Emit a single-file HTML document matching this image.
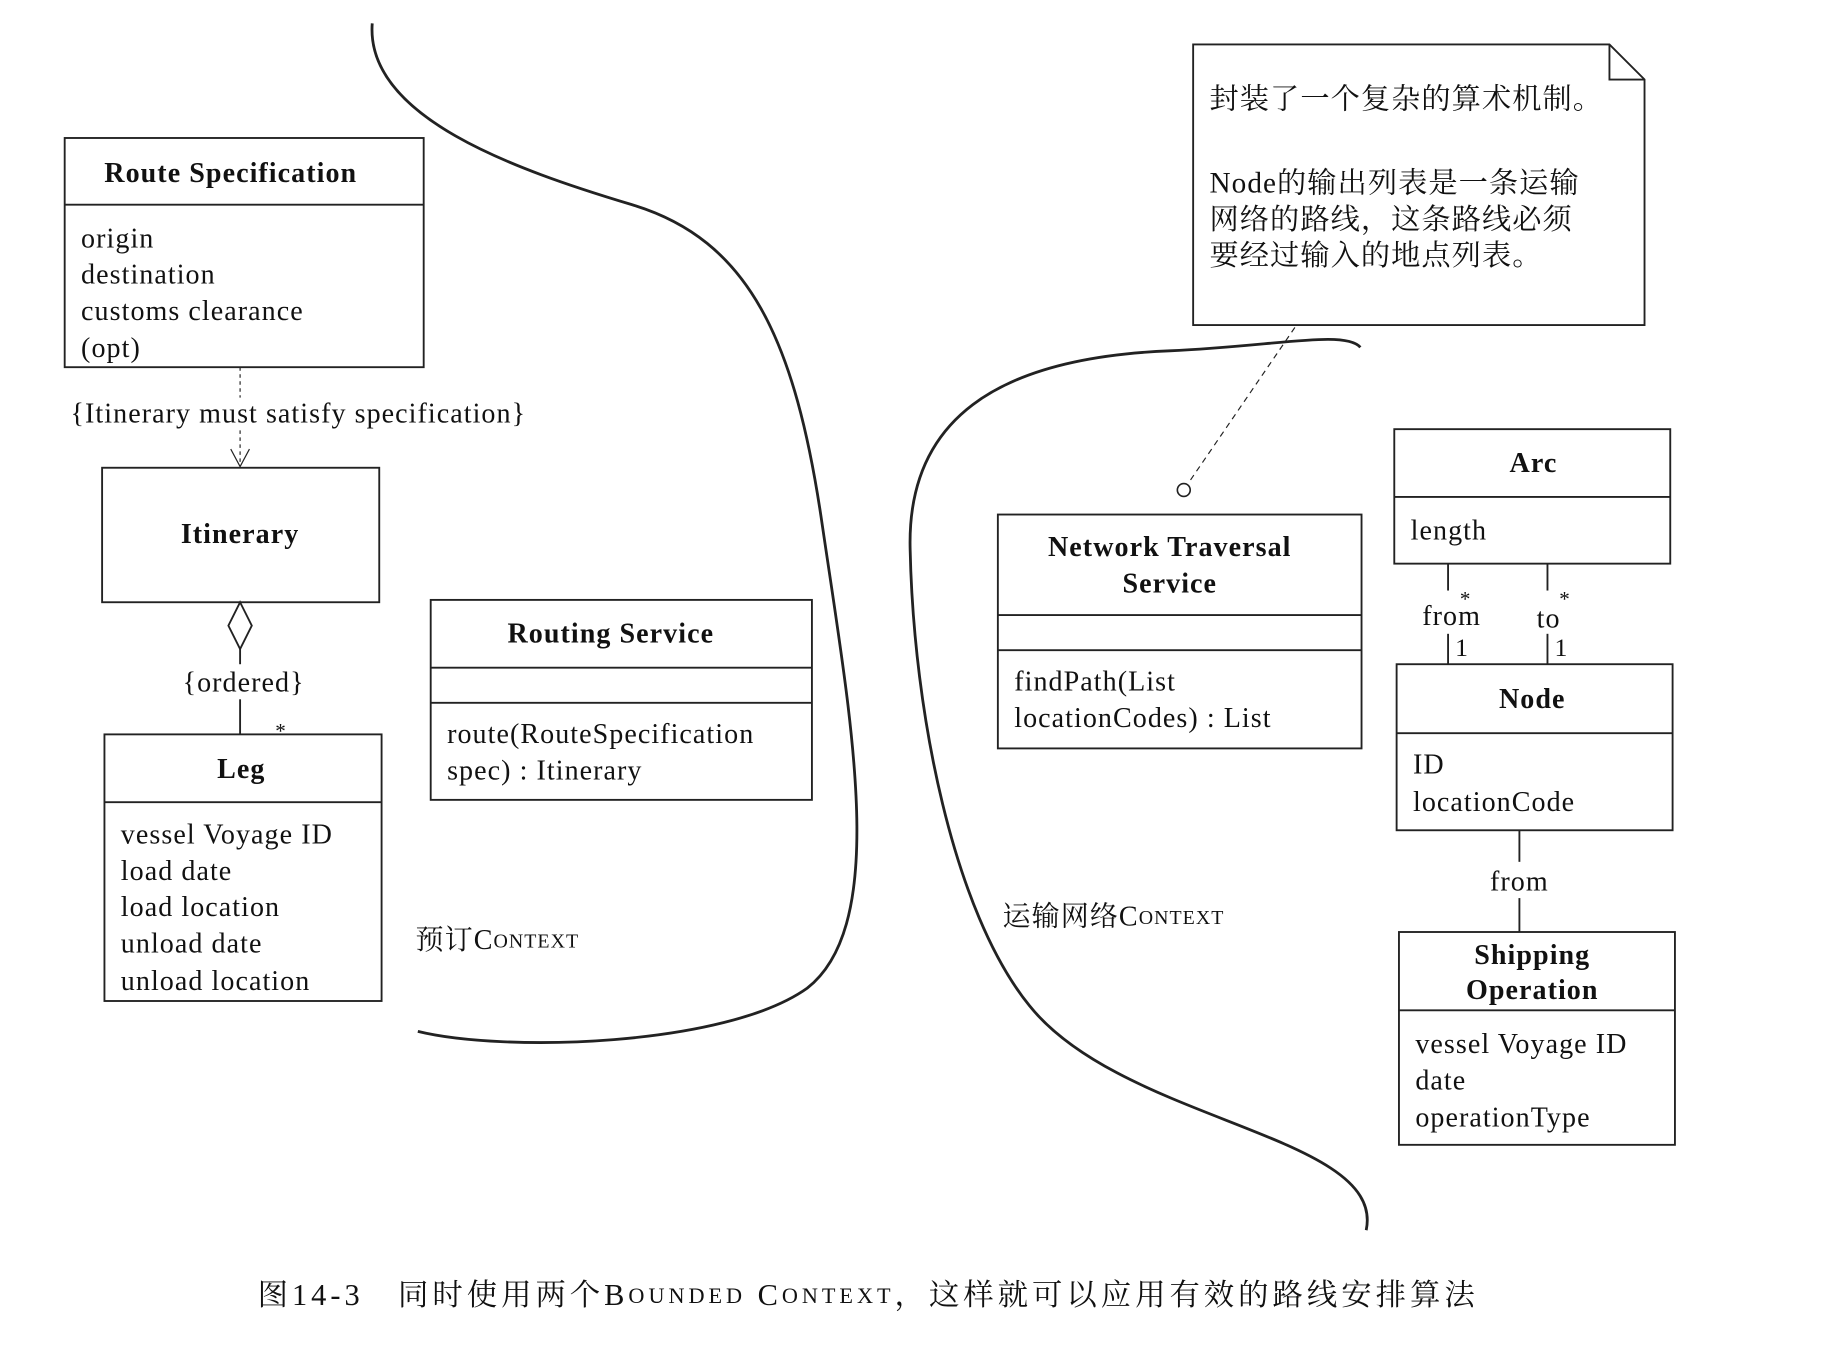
<!DOCTYPE html>
<html><head><meta charset="utf-8"><style>
html,body{margin:0;padding:0;background:#fff;}
svg{display:block;}
text{font-family:"Liberation Serif","Noto Serif CJK SC",serif;fill:#111;dominant-baseline:middle;letter-spacing:0.9px;}
.b{font-weight:bold;}
</style></head><body>
<svg width="1832" height="1360" viewBox="0 0 1566 1163" xmlns="http://www.w3.org/2000/svg">
<g fill="none" stroke="#222" stroke-width="1.6">
<rect x="55" y="118" width="307" height="196"/><line x1="55" y1="175" x2="362" y2="175"/>
<line x1="205" y1="314" x2="205" y2="340" stroke-dasharray="3,3" stroke-width="1"/>
<line x1="205" y1="368" x2="205" y2="398" stroke-dasharray="3,3" stroke-width="1"/>
<polyline points="197,384 205,399 213,384" stroke-width="1"/>
<rect x="87" y="400" width="237" height="115"/>
<polygon points="205,515 215,535 205,555 195,535" fill="#fff"/>
<line x1="205" y1="555" x2="205" y2="568"/><line x1="205" y1="598" x2="205" y2="628"/>
<rect x="89" y="628" width="237" height="228"/><line x1="89" y1="686" x2="326" y2="686"/>
<rect x="368" y="513" width="326" height="171"/><line x1="368" y1="571" x2="694" y2="571"/><line x1="368" y1="601" x2="694" y2="601"/>
<path d="M318,20 C312,100 440,145 540,175 C640,205 680,290 703,450 C728,620 760,790 690,845 C620,895 430,900 357,882" stroke-width="2.4"/>
<path d="M1163,297 C1150,282 1090,296 1000,300 C850,306 775,360 778,470 C781,610 815,780 880,860 C960,960 1185,970 1168,1052" stroke-width="2.4"/>
<path d="M1020,38 L1376,38 L1406,68 L1406,278 L1020,278 Z"/><path d="M1376,38 L1376,68 L1406,68"/>
<line x1="1107" y1="280" x2="1016" y2="413" stroke-dasharray="5,4" stroke-width="1"/>
<circle cx="1012" cy="419" r="5.5" stroke-width="1.4"/>
<rect x="853" y="440" width="311" height="200"/><line x1="853" y1="526" x2="1164" y2="526"/><line x1="853" y1="556" x2="1164" y2="556"/>
<rect x="1192" y="367" width="236" height="115"/><line x1="1192" y1="425" x2="1428" y2="425"/>
<line x1="1238" y1="482" x2="1238" y2="505"/><line x1="1238" y1="542" x2="1238" y2="568"/>
<line x1="1323" y1="482" x2="1323" y2="505"/><line x1="1323" y1="542" x2="1323" y2="568"/>
<rect x="1194" y="568" width="236" height="142"/><line x1="1194" y1="627" x2="1430" y2="627"/>
<line x1="1299" y1="710" x2="1299" y2="737"/><line x1="1299" y1="768" x2="1299" y2="797"/>
<rect x="1196" y="797" width="236" height="182"/><line x1="1196" y1="864" x2="1432" y2="864"/>
</g>
<g font-size="24" transform="translate(0,3)">
<text x="197" y="147" class="b" text-anchor="middle">Route Specification</text>
<text x="69" y="203">origin</text><text x="69" y="234">destination</text><text x="69" y="265">customs clearance</text><text x="69" y="297">(opt)</text>
<text x="60" y="353">{Itinerary must satisfy specification}</text>
<text x="205" y="456" class="b" text-anchor="middle">Itinerary</text>
<text x="208" y="583" text-anchor="middle">{ordered}</text>
<text x="240" y="624" font-size="18" text-anchor="middle">*</text>
<text x="206" y="657" class="b" text-anchor="middle">Leg</text>
<text x="103" y="713">vessel Voyage ID</text><text x="103" y="744">load date</text><text x="103" y="775">load location</text><text x="103" y="806">unload date</text><text x="103" y="838">unload location</text>
<text x="522" y="541" class="b" text-anchor="middle">Routing Service</text>
<text x="382" y="627">route(RouteSpecification</text><text x="382" y="658">spec) : Itinerary</text>
<text x="355" y="803">预订C<tspan font-size="17">ONTEXT</tspan></text>
<text x="1034" y="84" font-size="25">封装了一个复杂的算术机制。</text>
<text x="1034" y="156" font-size="25">Node的输出列表是一条运输</text>
<text x="1034" y="187" font-size="25">网络的路线，这条路线必须</text>
<text x="1034" y="218" font-size="25">要经过输入的地点列表。</text>
<text x="1000" y="467" class="b" text-anchor="middle">Network Traversal</text>
<text x="1000" y="498" class="b" text-anchor="middle">Service</text>
<text x="867" y="582">findPath(List</text><text x="867" y="613">locationCodes) : List</text>
<text x="857" y="783">运输网络C<tspan font-size="17">ONTEXT</tspan></text>
<text x="1311" y="395" class="b" text-anchor="middle">Arc</text>
<text x="1206" y="453">length</text>
<text x="1253" y="511" font-size="18" text-anchor="middle">*</text>
<text x="1241" y="526" text-anchor="middle">from</text>
<text x="1250" y="553" font-size="22" text-anchor="middle">1</text>
<text x="1338" y="511" font-size="18" text-anchor="middle">*</text>
<text x="1324" y="528" text-anchor="middle">to</text>
<text x="1335" y="553" font-size="22" text-anchor="middle">1</text>
<text x="1310" y="597" class="b" text-anchor="middle">Node</text>
<text x="1208" y="653">ID</text><text x="1208" y="685">locationCode</text>
<text x="1299" y="753" text-anchor="middle">from</text>
<text x="1310" y="816" class="b" text-anchor="middle">Shipping</text>
<text x="1310" y="846" class="b" text-anchor="middle">Operation</text>
<text x="1210" y="892">vessel Voyage ID</text><text x="1210" y="923">date</text><text x="1210" y="955">operationType</text>
<text x="220" y="1107" font-size="26" style="letter-spacing:3.4px">图14-3　同时使用两个B<tspan font-size="19">OUNDED</tspan> C<tspan font-size="19">ONTEXT</tspan>，这样就可以应用有效的路线安排算法</text>
</g>
</svg>
</body></html>
